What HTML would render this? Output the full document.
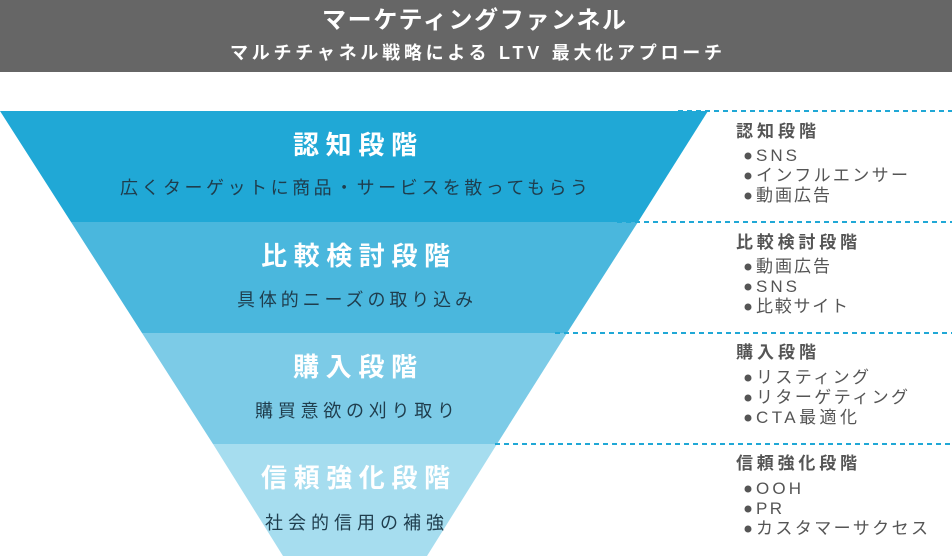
<!DOCTYPE html>
<html><head><meta charset="utf-8"><style>
html,body{margin:0;padding:0;background:#fff;}
svg{display:block;font-family:"Liberation Sans","Noto Sans CJK JP",sans-serif;}
</style></head><body>
<svg width="952" height="556" viewBox="0 0 952 556" xmlns="http://www.w3.org/2000/svg">
<rect x="0" y="0" width="952" height="72" fill="#666"/>
<text x="474" y="28" fill="#fff" font-size="24" font-weight="bold" text-anchor="middle" textLength="304" lengthAdjust="spacing">マーケティングファンネル</text>
<text x="476" y="59" fill="#fff" font-size="18" font-weight="bold" text-anchor="middle" textLength="492" lengthAdjust="spacing">マルチチャネル戦略による LTV 最大化アプローチ</text>

<polygon points="0,111 708,111 638,222 71,222" fill="#20a8d6"/>
<polygon points="71,222 638,222 567,333 142,333" fill="#4ab7dd"/>
<polygon points="142,333 567,333 497,444 213,444" fill="#7ccbe7"/>
<polygon points="213,444 497,444 427,556 283,556" fill="#a6ddef"/>

<g stroke="#20a8d6" stroke-width="2" stroke-dasharray="5,4">
<line x1="678" y1="111" x2="952" y2="111"/>
<line x1="617" y1="222" x2="952" y2="222"/>
<line x1="555" y1="333" x2="952" y2="333"/>
<line x1="495" y1="444" x2="952" y2="444"/>
</g>

<g fill="#fff" font-size="26" font-weight="bold">
<text x="293" y="154" textLength="124" lengthAdjust="spacing">認知段階</text>
<text x="261" y="265" textLength="189" lengthAdjust="spacing">比較検討段階</text>
<text x="293" y="376" textLength="124" lengthAdjust="spacing">購入段階</text>
<text x="261" y="487" textLength="189" lengthAdjust="spacing">信頼強化段階</text>
</g>
<g fill="#1f3d4d" font-size="18">
<text x="120" y="194" textLength="468" lengthAdjust="spacing">広くターゲットに商品・サービスを散ってもらう</text>
<text x="237" y="306" textLength="236" lengthAdjust="spacing">具体的ニーズの取り込み</text>
<text x="255" y="417" textLength="200" lengthAdjust="spacing">購買意欲の刈り取り</text>
<text x="265" y="529" textLength="179" lengthAdjust="spacing">社会的信用の補強</text>
</g>

<g fill="#555" font-size="17">
<g font-weight="bold">
<text x="736" y="137" textLength="80" lengthAdjust="spacing">認知段階</text>
<text x="736" y="248" textLength="121" lengthAdjust="spacing">比較検討段階</text>
<text x="736" y="358" textLength="80" lengthAdjust="spacing">購入段階</text>
<text x="736" y="469" textLength="121" lengthAdjust="spacing">信頼強化段階</text>
</g>
<g>
<circle cx="748" cy="156" r="3.5"/><text x="756" y="161" textLength="41" lengthAdjust="spacing">SNS</text>
<circle cx="748" cy="176" r="3.5"/><text x="756" y="181" textLength="152" lengthAdjust="spacing">インフルエンサー</text>
<circle cx="748" cy="196" r="3.5"/><text x="756" y="201" textLength="74" lengthAdjust="spacing">動画広告</text>

<circle cx="748" cy="267" r="3.5"/><text x="756" y="272" textLength="74" lengthAdjust="spacing">動画広告</text>
<circle cx="748" cy="287" r="3.5"/><text x="756" y="292" textLength="41" lengthAdjust="spacing">SNS</text>
<circle cx="748" cy="307" r="3.5"/><text x="756" y="312" textLength="92" lengthAdjust="spacing">比較サイト</text>

<circle cx="748" cy="378" r="3.5"/><text x="756" y="383" textLength="113" lengthAdjust="spacing">リスティング</text>
<circle cx="748" cy="398" r="3.5"/><text x="756" y="403" textLength="152" lengthAdjust="spacing">リターゲティング</text>
<circle cx="748" cy="418" r="3.5"/><text x="756" y="423" textLength="101" lengthAdjust="spacing">CTA最適化</text>

<circle cx="748" cy="489" r="3.5"/><text x="756" y="494" textLength="45" lengthAdjust="spacing">OOH</text>
<circle cx="748" cy="509" r="3.5"/><text x="756" y="514" textLength="26" lengthAdjust="spacing">PR</text>
<circle cx="748" cy="529" r="3.5"/><text x="756" y="534" textLength="172" lengthAdjust="spacing">カスタマーサクセス</text>
</g>
</g>
</svg>
</body></html>
